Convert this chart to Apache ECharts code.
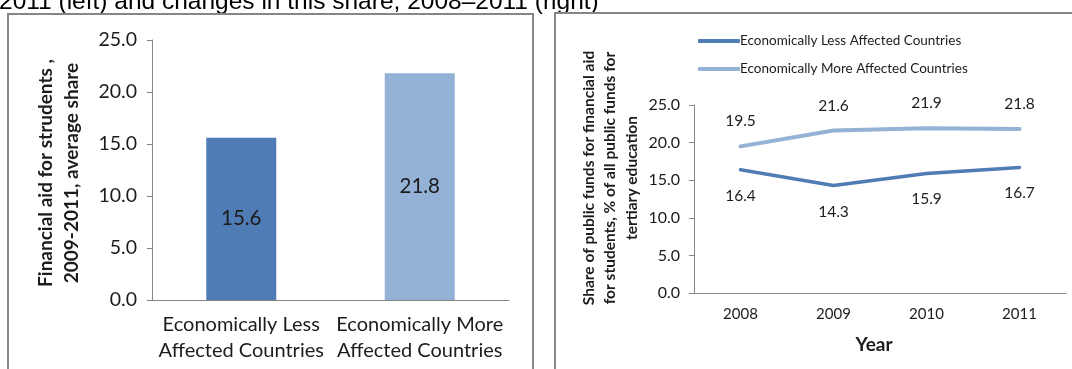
<!DOCTYPE html>
<html>
<head>
<meta charset="utf-8">
<script src="https://cdn.jsdelivr.net/npm/echarts@6/dist/echarts.min.js"></script>
<style>
  html, body { margin: 0; padding: 0; background: #fff; }
  #chart { width: 1072px; height: 369px; }
</style>
</head>
<body>
<div id="chart"></div>
<script>
// Left panel: average share 2009-2011
const barCategories = ['Economically Less\nAffected Countries', 'Economically More\nAffected Countries'];
const barValues = [15.6, 21.8];

// Right panel: yearly share 2008-2011
const years = ['2008', '2009', '2010', '2011'];
const lessAffected = [16.4, 14.3, 15.9, 16.7];
const moreAffected = [19.5, 21.6, 21.9, 21.8];
const seriesNames = ['Economically Less Affected Countries', 'Economically More Affected Countries'];

const DARK = '#4F7CB5';
const LIGHT = '#94B1D6';
const barColors = [DARK, LIGHT];
const AXIS = '#868686';
const TEXT = '#1c1c1c';
const FONT = 'Lato, "Open Sans", sans-serif';

const chart = echarts.init(document.getElementById('chart'), null, { renderer: 'canvas' });

const option = {
  animation: false,
  backgroundColor: '#fff',
  textStyle: { fontFamily: FONT, color: TEXT },
  legend: {
    orient: 'vertical',
    left: 693,
    top: 29,
    itemWidth: 42,
    itemHeight: 4,
    itemGap: 14,
    icon: 'roundRect',
    data: seriesNames,
    textStyle: { fontFamily: FONT, fontSize: 13.5, color: TEXT, padding: [0, 0, 0, -5] }
  },
  grid: [
    { left: 152, top: 40, width: 357, height: 260 },
    { left: 694, top: 105, width: 372, height: 188 }
  ],
  xAxis: [
    {
      gridIndex: 0,
      type: 'category',
      data: barCategories,
      axisLine: { lineStyle: { color: AXIS, width: 1 } },
      axisTick: { length: 5, lineStyle: { color: AXIS } },
      axisLabel: { interval: 0, fontFamily: FONT, fontSize: 20, color: TEXT, lineHeight: 26, margin: 12 }
    },
    {
      gridIndex: 1,
      type: 'category',
      data: years,
      axisLine: { lineStyle: { color: AXIS, width: 1 } },
      axisTick: { length: 5, lineStyle: { color: AXIS } },
      axisLabel: { interval: 0, fontFamily: FONT, fontSize: 15, color: TEXT, margin: 14 }
    }
  ],
  yAxis: [
    {
      gridIndex: 0,
      type: 'value',
      min: 0, max: 25, interval: 5,
      splitLine: { show: false },
      axisLine: { show: true, lineStyle: { color: AXIS } },
      axisTick: { show: true, length: 5, lineStyle: { color: AXIS } },
      axisLabel: { fontFamily: FONT, fontSize: 19.5, color: TEXT, margin: 15, formatter: v => v.toFixed(1) }
    },
    {
      gridIndex: 1,
      type: 'value',
      min: 0, max: 25, interval: 5,
      splitLine: { show: false },
      axisLine: { show: true, lineStyle: { color: AXIS } },
      axisTick: { show: true, length: 5, lineStyle: { color: AXIS } },
      axisLabel: { fontFamily: FONT, fontSize: 16, color: TEXT, margin: 14, formatter: v => v.toFixed(1) }
    }
  ],
  series: [
    {
      type: 'bar',
      xAxisIndex: 0,
      yAxisIndex: 0,
      data: barValues,
      barWidth: 70,
      itemStyle: { color: p => barColors[p.dataIndex] },
      label: {
        show: true,
        position: 'inside',
        fontFamily: FONT,
        fontSize: 20.5,
        color: TEXT,
        formatter: p => p.value.toFixed(1)
      }
    },
    {
      name: seriesNames[0],
      type: 'line',
      xAxisIndex: 1,
      yAxisIndex: 1,
      data: lessAffected,
      symbol: 'circle',
      symbolSize: 0.1,
      showSymbol: true,
      lineStyle: { color: DARK, width: 3.5, cap: 'round' },
      itemStyle: { color: DARK },
      label: {
        show: true, position: 'bottom', distance: 18,
        fontFamily: FONT, fontSize: 15.5, color: TEXT,
        formatter: p => p.value.toFixed(1)
      }
    },
    {
      name: seriesNames[1],
      type: 'line',
      xAxisIndex: 1,
      yAxisIndex: 1,
      data: moreAffected,
      symbol: 'circle',
      symbolSize: 0.1,
      showSymbol: true,
      lineStyle: { color: LIGHT, width: 4, cap: 'round' },
      itemStyle: { color: LIGHT },
      label: {
        show: true, position: 'top', distance: 17,
        fontFamily: FONT, fontSize: 15.5, color: TEXT,
        formatter: p => p.value.toFixed(1)
      }
    }
  ],
  graphic: [
    // caption running above both panels
    {
      type: 'text', left: -1, top: -10,
      style: {
        text: '2011 (left) and changes in this share, 2008\u20132011 (right)',
        font: '24.5px "Liberation Sans", Arial, sans-serif',
        fill: '#000'
      }
    },
    // panel frames
    {
      type: 'rect', shape: { x: 8, y: 14, width: 525, height: 400 },
      style: { fill: 'none', stroke: AXIS, lineWidth: 2 }
    },
    {
      type: 'rect', shape: { x: 555, y: 13, width: 560, height: 400 },
      style: { fill: 'none', stroke: AXIS, lineWidth: 2 }
    },
    // left value-axis title
    {
      type: 'text', x: 59, y: 173, rotation: Math.PI / 2,
      style: {
        text: 'Financial aid for strudents ,\n2009-2011, average share',
        font: 'bold 19px ' + FONT,
        fill: TEXT,
        align: 'center', verticalAlign: 'middle', lineHeight: 26
      }
    },
    // right value-axis title
    {
      type: 'text', x: 610, y: 178, rotation: Math.PI / 2,
      style: {
        text: 'Share of public funds for financial aid\nfor students, % of all public funds for\ntertiary education',
        font: 'bold 15.5px ' + FONT,
        fill: TEXT,
        align: 'center', verticalAlign: 'middle', lineHeight: 21.5
      }
    },
    // right category-axis title
    {
      type: 'text', x: 874, y: 345,
      style: {
        text: 'Year',
        font: 'bold 19px ' + FONT,
        fill: TEXT,
        align: 'center', verticalAlign: 'middle'
      }
    }
  ]
};

chart.setOption(option);
</script>
</body>
</html>
